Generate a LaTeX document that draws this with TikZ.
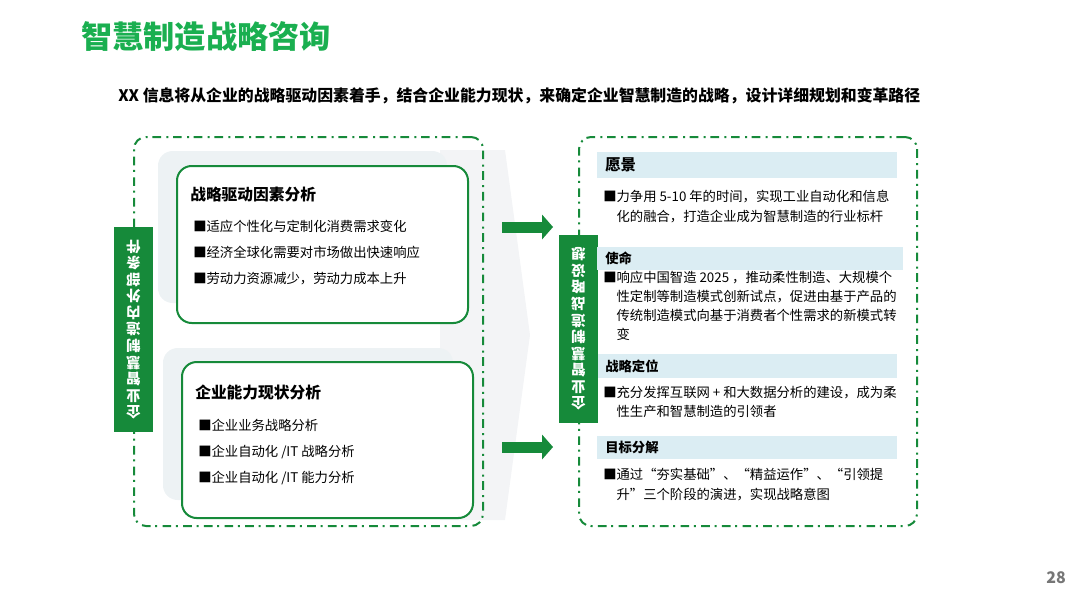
\documentclass[tikz,border=0pt]{standalone}
\usepackage{fontspec}
\setmainfont{Noto Sans CJK SC}
\usepackage{tikz}
\usetikzlibrary{arrows.meta,positioning}
\usepackage{xcolor}
\definecolor{titlegreen}{RGB}{26,175,80}
\definecolor{framegreen}{RGB}{22,138,58}
\definecolor{bandblue}{RGB}{219,237,243}
\definecolor{panelgrey}{RGB}{237,242,244}
\definecolor{shadegrey}{RGB}{243,244,246}
\definecolor{pagegrey}{RGB}{118,118,118}
\newdimen\px \px=0.75pt

\begin{document}
\begin{tikzpicture}[x=0.75pt, y=-0.75pt,
    frame/.style={draw=framegreen, line width=1.5pt, rounded corners=9pt,
      dash pattern=on 6.5pt off 3.5pt on 1.5pt off 4pt, inner sep=0},
    panel/.style={fill=panelgrey, rounded corners=11pt, inner sep=0},
    card/.style={draw=framegreen, fill=white, line width=1.5pt, rounded corners=11pt, inner sep=0},
    bar/.style={fill=framegreen, inner sep=0},
    band/.style={fill=bandblue, inner sep=0},
    vtext/.style={text=white, font=\bfseries\fontsize{10.8}{12.4}\selectfont, align=center, rotate=180, inner sep=0},
    hd/.style={font=\bfseries\fontsize{11.8}{14}\selectfont, anchor=west, inner sep=0},
    subhd/.style={font=\bfseries\fontsize{10}{12}\selectfont, anchor=west, inner sep=0},
    item/.style={font=\fontsize{10}{19.5}\selectfont, align=left, anchor=west, inner sep=0},
    body/.style={font=\fontsize{10}{14.4}\selectfont, align=left, anchor=west, inner sep=0},
    arr/.style={framegreen, line width=8.25pt, -{Triangle[length=8.25pt, width=18.75pt, line width=0pt]}}
]
\useasboundingbox (0,0) rectangle (1080,608);

% heading
\node[anchor=west, inner sep=0, text=titlegreen, font=\bfseries\fontsize{23.4}{26}\selectfont] (title) at (81,37) {智慧制造战略咨询};
\node[anchor=west, inner sep=0, font=\bfseries\fontsize{11.9}{14}\selectfont] (lead) at (118,96)
  {XX 信息将从企业的战略驱动因素着手，结合企业能力现状，来确定企业智慧制造的战略，设计详细规划和变革路径};

% backdrop
\fill[shadegrey] (440,150) -- (505,150) -- (530,335) -- (505,520) -- (440,520) -- cycle;

% frames
\node[frame, minimum width=349\px, minimum height=389\px] (leftframe) at (308.5,331.5) {};
\node[frame, minimum width=338\px, minimum height=389\px] (rightframe) at (748,331.5) {};

% left side
\node[panel, minimum width=289\px, minimum height=152\px] (panel1) at (302.5,227) {};
\node[card, minimum width=291\px, minimum height=157\px] (drivers) at (322.5,244.5) {};
\node[panel, minimum width=290\px, minimum height=152\px] (panel2) at (308,424) {};
\node[card, minimum width=291\px, minimum height=156\px] (ability) at (327.5,440) {};

\node[hd] (driverstitle) at (190,195) {战略驱动因素分析};
\node[item] (driversitems) at (193,253) {■适应个性化与定制化消费需求变化\\■经济全球化需要对市场做出快速响应\\■劳动力资源减少，劳动力成本上升};
\node[hd] (abilitytitle) at (195,392) {企业能力现状分析};
\node[item] (abilityitems) at (198,452) {■企业业务战略分析\\■企业自动化 /IT 战略分析\\■企业自动化 /IT 能力分析};

\node[bar, minimum width=39\px, minimum height=205\px] (leftbar) at (133.5,329.5) {};
\node[vtext] at (leftbar) {企\\业\\智\\慧\\制\\造\\内\\外\\部\\条\\件};

% arrows
\coordinate (a1s) at (502,227);
\coordinate (a1e) at (553,227);
\coordinate (a2s) at (502,447);
\coordinate (a2e) at (553,447);
\draw[arr] (a1s) -- (a1e);
\draw[arr] (a2s) -- (a2e);

% right side
\node[bar, minimum width=39\px, minimum height=188\px] (rightbar) at (578.5,329) {};
\node[vtext] at (rightbar) {企\\业\\智\\慧\\制\\造\\战\\略\\设\\想};

\node[band, minimum width=300\px, minimum height=26\px] (vision) at (747,165) {};
\node[band, minimum width=306\px, minimum height=23\px] (mission) at (750,258.5) {};
\node[band, minimum width=299\px, minimum height=24\px] (position) at (747.5,366) {};
\node[band, minimum width=300\px, minimum height=23\px] (goal) at (747,447.5) {};

\node[hd, font=\bfseries\fontsize{11.6}{14}\selectfont] at (605,165) {愿景};
\node[body] (visiontext) at (603,206.5) {■力争用 5-10 年的时间，实现工业自动化和信息\\\hphantom{■}化的融合，打造企业成为智慧制造的行业标杆};
\node[subhd] at (605,258.5) {使命};
\node[body] (missiontext) at (603,306) {■响应中国智造 2025 ，推动柔性制造、大规模个\\\hphantom{■}性定制等制造模式创新试点，促进由基于产品的\\\hphantom{■}传统制造模式向基于消费者个性需求的新模式转\\\hphantom{■}变};
\node[subhd] at (605,366) {战略定位};
\node[body] (positiontext) at (603,402) {■充分发挥互联网 + 和大数据分析的建设，成为柔\\\hphantom{■}性生产和智慧制造的引领者};
\node[subhd] at (605,447.5) {目标分解};
\node[body] (goaltext) at (603,484.5) {■通过“夯实基础”、“精益运作”、“引领提\\\hphantom{■}升”三个阶段的演进，实现战略意图};

% page number
\node[text=pagegrey, font=\bfseries\fontsize{12}{14}\selectfont, inner sep=0] (pageno) at (1056,578) {28};
\end{tikzpicture}
\end{document}
